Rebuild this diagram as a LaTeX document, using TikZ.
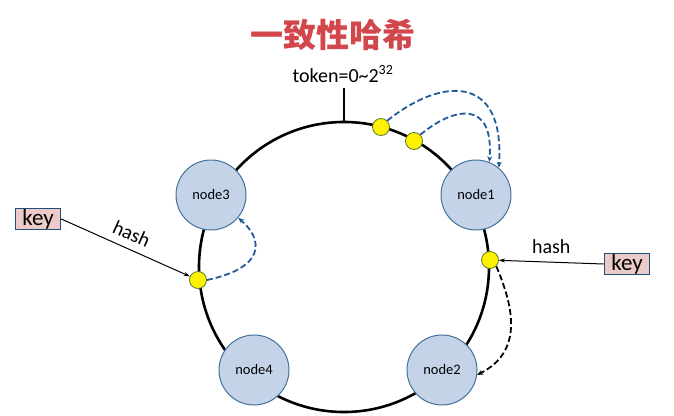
\documentclass[tikz,border=0pt]{standalone}
\usepackage{fontspec}
\setmainfont{Carlito}
\newfontfamily\cjk{Noto Sans CJK SC}
\usetikzlibrary{positioning,arrows.meta}
\definecolor{serverfill}{HTML}{C5D3E8}
\definecolor{serveredge}{HTML}{41719C}
\definecolor{hopblue}{HTML}{1F5C99}
\definecolor{titlered}{HTML}{D2474B}
\definecolor{keyfill}{HTML}{ECCACA}
\definecolor{keyedge}{HTML}{1F4E79}
\definecolor{dotedge}{HTML}{5B7A2E}
\tikzset{
	server/.style={circle, draw=serveredge, line width=1pt, fill=serverfill, minimum size=70pt, inner sep=0pt, font=\fontsize{14.5}{14.5}\selectfont},
	hashdot/.style={circle, draw=dotedge, line width=0.8pt, fill=yellow, minimum size=17pt, inner sep=0pt},
	keybox/.style={draw=keyedge, fill=keyfill, line width=1.6pt, minimum width=45pt, minimum height=21pt, inner sep=0pt, font=\fontsize{23}{23}\selectfont},
	hop/.style={line width=1.8pt, dash pattern=on 6pt off 3pt, -{Stealth[length=6pt,width=5pt]}},
	feed/.style={line width=1pt, -{Stealth[length=6pt,width=4pt]}},
	hashtext/.style={font=\fontsize{20}{20}\selectfont},
}

\begin{document}
\begin{tikzpicture}[x=1pt,y=-1pt]
				\useasboundingbox (0,0) rectangle (674,415);
				
				\node[text=titlered, font=\cjk\bfseries\fontsize{33}{33}\selectfont] (title) at (333,35) {一致性哈希};
				
				\draw[line width=2.6pt] (344,267) circle [radius=145pt];
				\coordinate (ringtop) at (344,122);
				\coordinate (tick) at (344,88);
				\draw[line width=2.6pt] (tick) -- (ringtop);
				\node[font=\fontsize{20}{20}\selectfont] (token) at (343,74) {token=0\textasciitilde2\textsuperscript{32}};
				
				\node[server] (node1) at (476,195) {node1};
				\node[server] (node2) at (442,370) {node2};
				\node[server] (node3) at (211,195) {node3};
				\node[server] (node4) at (254,370) {node4};
				
				\node[hashdot] (h1) at (381,127) {};
				\node[hashdot] (h2) at (414,141) {};
				\node[hashdot] (h3) at (198,280) {};
				\node[hashdot] (h4) at (490,260) {};
				
				\node[keybox] (keyL) at (38,219) {key};
				\node[keybox] (keyR) at (627,264) {key};
				
				\draw[feed] (keyL.east) -- (h3) node[midway, above=4pt, sloped, hashtext] {hash};
				\draw[feed] (keyR.west) -- (h4) node[midway, above=5pt, hashtext] {hash};
				
				\draw[hop, hopblue] (h1.north east) .. controls (440,78) and (505,72) .. (node1.50);
				\draw[hop, hopblue] (h2.north east) .. controls (455,106) and (494,100) .. (node1.68);
				\draw[hop, hopblue] (h3.east) .. controls (265,268) and (264,240) .. (node3.-40);
				\draw[hop, black] (h4.south east) .. controls (515,310) and (522,352) .. (node2.-8);
			\end{tikzpicture}
\end{document}
